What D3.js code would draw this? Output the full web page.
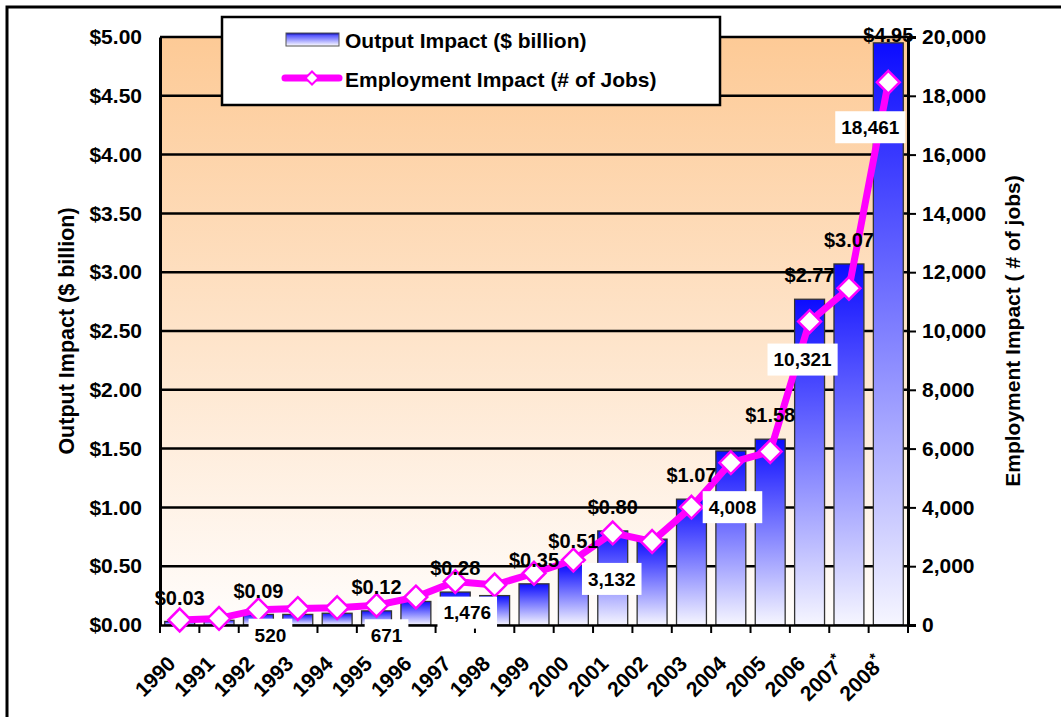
<!DOCTYPE html>
<html><head><meta charset="utf-8">
<script src="https://cdn.jsdelivr.net/npm/d3@7"></script>
<style>
body{margin:0;background:#fff;}
text{font-family:"Liberation Sans",Arial,sans-serif;font-weight:bold;fill:#000;}
</style>
</head><body>
<svg id="chart" width="1061" height="717"></svg>
<script>
// ---- data ----
const years = ['1990','1991','1992','1993','1994','1995','1996','1997','1998','1999','2000','2001','2002','2003','2004','2005','2006','2007*','2008*'];
const outputImpact = [0.03,0.04,0.09,0.09,0.10,0.12,0.20,0.28,0.25,0.35,0.51,0.80,0.73,1.07,1.48,1.58,2.77,3.07,4.95];
const employmentImpact = [170,225,520,560,590,671,950,1476,1360,1760,2210,3132,2840,4008,5520,5900,10321,11450,18461];
const outputLabelYears = ['1990','1992','1995','1997','1999','2000','2001','2003','2005','2006','2007*','2008*'];
const jobLabelYears = ['1992','1995','1997','2001','2003','2006','2008*'];
const leftTicks = [0,0.5,1,1.5,2,2.5,3,3.5,4,4.5,5];
const rightTicks = [0,2000,4000,6000,8000,10000,12000,14000,16000,18000,20000];
const seriesNames = ['Output Impact ($ billion)','Employment Impact (# of Jobs)'];
const axisTitles = ['Output Impact ($ billion)','Employment Impact ( # of jobs)'];

// layout (not data): offsets of the job-label boxes relative to their point
const jobLabelOffsets = [[12,25],[10,30],[12,31],[-1,46],[41,0],[-7,38],[-18,45]];

const svg = d3.select('#chart');
const L = 160, R = 908, T = 37, B = 625;

const defs = svg.append('defs');
const bg = defs.append('linearGradient').attr('id','bgGrad').attr('x1',0).attr('y1',0).attr('x2',0).attr('y2',1);
bg.append('stop').attr('offset','0%').attr('stop-color','#fdca96');
bg.append('stop').attr('offset','100%').attr('stop-color','#fffdfc');
const bar = defs.append('linearGradient').attr('id','barGrad').attr('x1',0).attr('y1',0).attr('x2',0).attr('y2',1);
bar.append('stop').attr('offset','0%').attr('stop-color','#0c0cff');
bar.append('stop').attr('offset','100%').attr('stop-color','#f6f6ff');
const sw = defs.append('linearGradient').attr('id','swGrad').attr('x1',0).attr('y1',0).attr('x2',0).attr('y2',1);
sw.append('stop').attr('offset','0%').attr('stop-color','#000090');
sw.append('stop').attr('offset','20%').attr('stop-color','#5a5aff');
sw.append('stop').attr('offset','100%').attr('stop-color','#ffffff');

// outer frame
svg.append('rect').attr('x',7).attr('y',7).attr('width',1100).attr('height',760)
  .attr('fill','none').attr('stroke','#000').attr('stroke-width',3);

const x = d3.scaleBand().domain(years).range([L,R]).paddingInner(0.24).paddingOuter(0.12);
const yL = d3.scaleLinear().domain([0,5]).range([B,T]);
const yR = d3.scaleLinear().domain([0,20000]).range([B,T]);
const cx = d => x(d) + x.bandwidth()/2;

// plot background
svg.append('rect').attr('x',L).attr('y',T).attr('width',R-L).attr('height',B-T).attr('fill','url(#bgGrad)');

// gridlines
svg.append('g').selectAll('line').data(leftTicks.filter(t=>t>0)).join('line')
  .attr('x1',L).attr('x2',R).attr('y1',d=>yL(d)).attr('y2',d=>yL(d))
  .attr('stroke','#000').attr('stroke-width',2.5);

// bars
svg.append('g').selectAll('rect').data(years).join('rect')
  .attr('x',d=>x(d)).attr('width',x.bandwidth())
  .attr('y',(d,i)=>yL(outputImpact[i])).attr('height',(d,i)=>B-yL(outputImpact[i]))
  .attr('fill','url(#barGrad)').attr('stroke','#333').attr('stroke-width',1.3);

// left axis
const gL = svg.append('g').attr('transform',`translate(${L},0)`)
  .call(d3.axisLeft(yL).tickValues(leftTicks).tickFormat(d=>'$'+d.toFixed(2)).tickSize(0).tickPadding(18));
gL.select('.domain').attr('stroke','#000').attr('stroke-width',3);
gL.selectAll('text').style('font-size','21px').style('font-family','"Liberation Sans",Arial,sans-serif').style('font-weight','bold');

// right axis
const gR = svg.append('g').attr('transform',`translate(${R},0)`)
  .call(d3.axisRight(yR).tickValues(rightTicks).tickFormat(d3.format(',')).tickSize(8).tickPadding(6));
gR.select('.domain').attr('stroke','#000').attr('stroke-width',3);
gR.selectAll('.tick line').attr('stroke','#000').attr('stroke-width',2);
gR.selectAll('text').style('font-size','21px').style('font-family','"Liberation Sans",Arial,sans-serif').style('font-weight','bold');

// bottom axis
const gB = svg.append('g').attr('transform',`translate(0,${B})`)
  .call(d3.axisBottom(x).tickSize(0).tickFormat(''));
gB.select('.domain').attr('stroke','#000').attr('stroke-width',2.5);
const bounds = years.map(d => x(d) - x.step()*x.paddingInner()/2).concat([R]);
gB.append('g').selectAll('line').data(bounds).join('line')
  .attr('x1',d=>d).attr('x2',d=>d).attr('y1',0).attr('y2',8).attr('stroke','#000').attr('stroke-width',2);
const xl = gB.append('g').selectAll('text').data(years).join('text')
  .attr('transform',d=>`translate(${cx(d)-3},${40}) rotate(-45)`)
  .attr('text-anchor','end').style('font-size','21px');
xl.each(function(d){
  const t = d3.select(this);
  const base = d.replace('*','');
  t.append('tspan').text(base);
  if (d.includes('*')) t.append('tspan').attr('dy',-8).style('font-size','15px').text('*');
});

// employment line
const line = d3.line().x((d,i)=>cx(years[i])).y(d=>yR(d));
svg.append('path').datum(employmentImpact).attr('d',line)
  .attr('fill','none').attr('stroke','#ff00ff').attr('stroke-width',7).attr('stroke-linejoin','round');
const diamond = d3.symbol().type(d3.symbolDiamond2).size(330);
svg.append('g').selectAll('path').data(employmentImpact).join('path')
  .attr('d',diamond)
  .attr('transform',(d,i)=>`translate(${cx(years[i])},${yR(d)})`)
  .attr('fill','#fff').attr('stroke','#ff00ff').attr('stroke-width',2.5);

// output labels
svg.append('g').selectAll('text').data(outputLabelYears).join('text')
  .attr('x',d=>cx(d))
  .attr('y',d=>Math.max(yL(outputImpact[years.indexOf(d)]) - 24, 35))
  .attr('dy','0.36em').attr('text-anchor','middle').style('font-size','20px')
  .text(d=>'$'+outputImpact[years.indexOf(d)].toFixed(2));

// job labels with white boxes
const fmt = d3.format(',');
const jl = svg.append('g').selectAll('g').data(jobLabelYears).join('g')
  .attr('transform',(d,k)=>{
    const i = years.indexOf(d);
    return `translate(${cx(d)+jobLabelOffsets[k][0]},${yR(employmentImpact[i])+jobLabelOffsets[k][1]})`;
  });
jl.append('rect').attr('fill','#fff');
jl.append('text').attr('text-anchor','middle').attr('dy','0.36em').style('font-size','19px')
  .text(d=>fmt(employmentImpact[years.indexOf(d)]));
jl.each(function(){
  const g = d3.select(this);
  const w = g.select('text').node().getComputedTextLength();
  g.select('rect').attr('x',-w/2-6).attr('y',-16).attr('width',w+12).attr('height',32);
});

// legend
const lg = svg.append('g');
lg.append('rect').attr('x',222).attr('y',17).attr('width',498).attr('height',88)
  .attr('fill','#fff').attr('stroke','#000').attr('stroke-width',2.5);
lg.append('rect').attr('x',286).attr('y',33).attr('width',53).attr('height',13)
  .attr('fill','url(#swGrad)').attr('stroke','#555').attr('stroke-width',1);
lg.append('line').attr('x1',285).attr('x2',339).attr('y1',78).attr('y2',78)
  .attr('stroke','#ff00ff').attr('stroke-width',7).attr('stroke-linecap','round');
lg.append('path').attr('d',d3.symbol().type(d3.symbolDiamond2).size(110))
  .attr('transform','translate(312,78)').attr('fill','#fff').attr('stroke','#ff00ff').attr('stroke-width',2);
lg.selectAll('text.leg').data(seriesNames).join('text').attr('class','leg')
  .attr('x',345).attr('y',(d,i)=>40+i*39).attr('dy','0.36em').style('font-size','21px').text(d=>d);

// axis titles
svg.append('text').attr('transform','translate(66,331) rotate(-90)').attr('text-anchor','middle')
  .attr('dy','0.36em').style('font-size','21.5px').text(axisTitles[0]);
svg.append('text').attr('transform','translate(1012,331) rotate(-90)').attr('text-anchor','middle')
  .attr('dy','0.36em').style('font-size','21px').text(axisTitles[1]);
</script>
</body></html>
